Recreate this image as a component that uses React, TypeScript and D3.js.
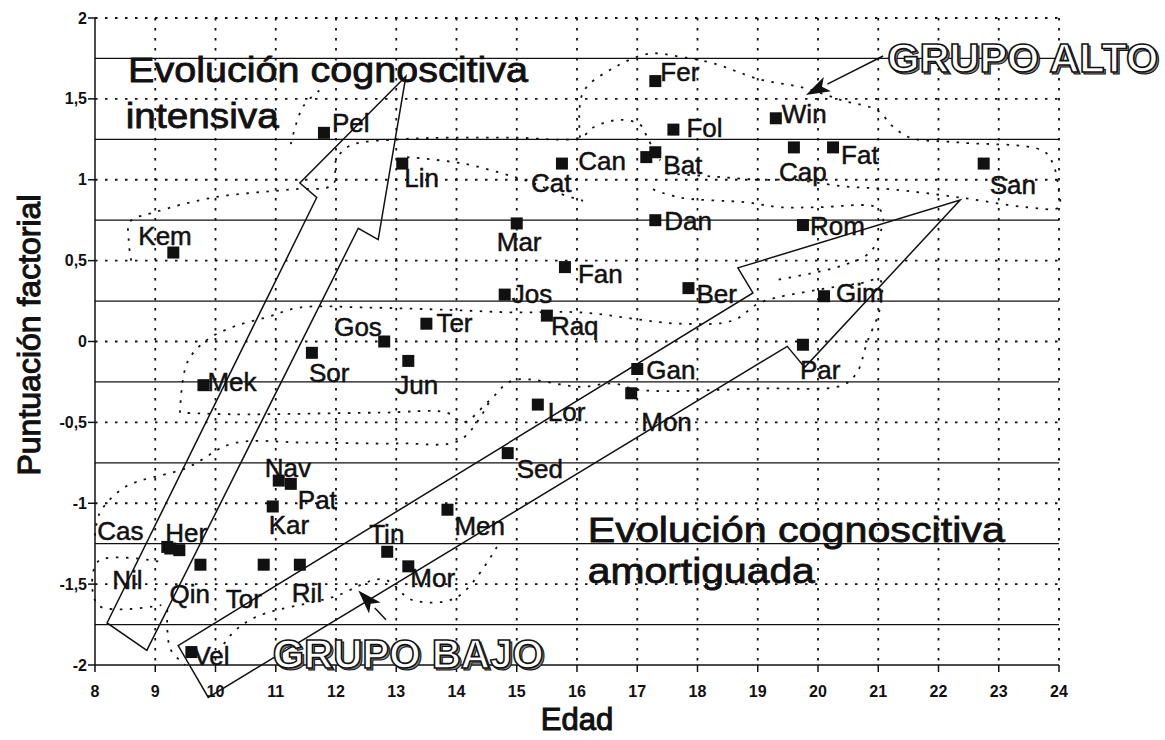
import React, { useEffect, useRef } from "react";
import * as d3 from "d3";

// Sujetos: nombre, edad, puntuación factorial
const nombres = ["Pel", "Kem", "Lin", "Cat", "Can", "Bat", "Fer", "Fol", "Dan", "Mar", "Fan", "Jos", "Ber", "Raq", "Ter", "Gos", "Jun", "Sor", "Mek", "Gan", "Mon", "Lor", "Sed", "Men", "Nav", "Pat", "Kar", "Cas", "Her", "Nil", "Qin", "Tor", "Ril", "Tin", "Mor", "Vel", "Win", "Cap", "Fat", "San", "Rom", "Gim", "Par"];
const edad = [11.8, 9.3, 13.1, 15.75, 17.15, 17.3, 17.3, 17.6, 17.3, 15.0, 15.8, 14.8, 17.85, 15.5, 13.5, 12.8, 13.2, 11.6, 9.8, 17.0, 16.9, 15.35, 14.85, 13.85, 11.05, 11.25, 10.95, 9.2, 9.4, 9.25, 9.75, 10.8, 11.4, 12.85, 13.2, 9.6, 19.3, 19.6, 20.25, 22.75, 19.75, 20.1, 19.75];
const puntuacion = [1.29, 0.55, 1.1, 1.1, 1.14, 1.17, 1.61, 1.31, 0.75, 0.73, 0.46, 0.29, 0.33, 0.16, 0.11, 0.0, -0.12, -0.07, -0.27, -0.17, -0.32, -0.39, -0.69, -1.04, -0.86, -0.88, -1.02, -1.27, -1.29, -1.28, -1.38, -1.38, -1.38, -1.3, -1.39, -1.92, 1.38, 1.2, 1.2, 1.1, 0.72, 0.28, -0.02];

// Ticks
const xTicks = [8, 9, 10, 11, 12, 13, 14, 15, 16, 17, 18, 19, 20, 21, 22, 23, 24];
const yTicks = [-2, -1.5, -1, -0.5, 0, 0.5, 1, 1.5, 2];
const solidLevels = [1.75, 1.25, 0.75, 0.25, -0.25, -0.75, -1.25, -1.75];

// label placement (pixel offsets from the marker)
const labelOffset: Record<string, [number, number]> = {
  Pel: [8, -1], Kem: [-35, -8], Lin: [2, 23], Cat: [-31, 28], Can: [-68, 13], Bat: [8, 22],
  Fer: [5, 0], Fol: [13, 7], Dan: [9, 10], Mar: [-20, 28], Fan: [13, 16], Jos: [7, 8],
  Ber: [8, 15], Raq: [4, 19], Ter: [10, 8], Gos: [-50, -6], Jun: [-12, 33], Sor: [-3, 29],
  Mek: [4, 6], Gan: [9, 10], Mon: [10, 38], Lor: [10, 16], Sed: [9, 25], Men: [7, 25],
  Nav: [-14, -4], Pat: [7, 25], Kar: [-4, 28], Cas: [-70, -7], Her: [-14, -8], Nil: [-58, 40],
  Qin: [-31, 38], Tor: [-38, 43], Ril: [-8, 37], Tin: [-18, -9], Mor: [2, 21], Vel: [2, 13],
  Win: [6, 5], Cap: [-15, 34], Fat: [8, 17], San: [6, 30], Rom: [7, 10], Gim: [12, 6], Par: [-3, 34],
};

// big outline arrows (edad, puntuación)
const flechaIntensiva: [number, number][] = [[13.16, 1.64], [11.4, 0.98], [11.68, 0.89], [8.2, -1.74], [8.86, -1.91], [12.37, 0.7], [12.7, 0.63]];
const flechaAmortiguada: [number, number][] = [[9.38, -1.88], [18.92, 0.3], [18.67, 0.455], [22.36, 0.875], [19.78, -0.16], [19.49, -0.03], [9.88, -2.2]];

// hand drawn dotted group boundaries
const contornos: [number, number][][] = [
  [[8.6, 0.5], [8.56, 0.62], [8.58, 0.74], [9.0, 0.8], [9.96, 0.89], [11.24, 0.94], [11.95, 0.97], [12.0, 1.12], [12.23, 1.21], [13.06, 1.25], [13.89, 1.26], [14.97, 1.26], [16.05, 1.26], [16.3, 1.33], [16.71, 1.37], [17.05, 1.34], [17.18, 1.25], [17.38, 1.12]],
  [[11.25, 1.22], [11.45, 1.45], [11.75, 1.56]],
  [[16.05, 1.26], [16.1, 1.54], [16.6, 1.69], [17.21, 1.78], [17.71, 1.76], [18.26, 1.72], [19.04, 1.62], [19.75, 1.57], [20.41, 1.49], [20.98, 1.43], [21.24, 1.33], [21.53, 1.26], [22.36, 1.23], [23.73, 1.18], [23.9, 1.1], [24, 0.92], [24, 0.83], [23.47, 0.83], [22.36, 0.89], [21.24, 0.94], [20.41, 0.96], [19.59, 1.0], [19.04, 1.0], [18.26, 1.02], [17.43, 1.04]],
  [[13.18, 1.14], [14.11, 1.1], [14.94, 1.02], [15.27, 0.98], [15.67, 0.92], [16.1, 0.87]],
  [[17.26, 0.94], [17.71, 0.89], [18.82, 0.86], [19.37, 0.83], [20.0, 0.83], [20.98, 0.83], [21.08, 0.77], [21.03, 0.67], [20.86, 0.55], [20.41, 0.47], [19.87, 0.42], [19.3, 0.38]],
  [[9.41, -0.44], [9.53, -0.13], [9.86, 0.01], [10.29, 0.09], [10.85, 0.15], [11.4, 0.21], [12.51, 0.21], [13.89, 0.195], [14.94, 0.18], [16.05, 0.18], [17.71, 0.11], [18.59, 0.13], [19.04, 0.24], [20.0, 0.32], [20.7, 0.36], [21.03, 0.38], [21.03, 0.21], [20.81, -0.01], [20.65, -0.19], [20.41, -0.27], [19.04, -0.29], [17.05, -0.3], [16.6, -0.26], [16.05, -0.28], [14.94, -0.24], [14.56, -0.36], [14.11, -0.5], [13.84, -0.44], [12.73, -0.44], [10.29, -0.45], [9.41, -0.44]],
  [[8.0, -1.2], [8.08, -1.06], [8.5, -0.9], [9.53, -0.78], [10.29, -0.63], [11.5, -0.625], [13.06, -0.63], [14.06, -0.61], [14.56, -0.36]],
  [[14.67, -1.27], [14.01, -1.58], [13.28, -1.6], [12.78, -1.47], [11.95, -1.58], [10.69, -1.7], [10.29, -1.8], [10.0, -1.95]],
  [[9.05, -1.36], [8.05, -1.36], [8.05, -1.63], [9.1, -1.63]],
  [[9.2, -1.66], [9.25, -1.9], [9.5, -2.0]],
];

export default function App() {
  const ref = useRef<SVGSVGElement>(null);

  useEffect(() => {
    const svg = d3.select(ref.current);
    svg.selectAll("*").remove();

    const x = d3.scaleLinear().domain([8, 24]).range([95, 1059]);
    const y = d3.scaleLinear().domain([-2, 2]).range([665, 18]);
    const font = "'Liberation Sans', Arial, Helvetica, sans-serif";
    const ink = "#111";
    const dots = "2.5 7.5";

    svg.append("rect").attr("width", 1165).attr("height", 740).attr("fill", "#fff");

    // dotted grid
    svg.append("g").selectAll("line").data(xTicks.slice(1)).join("line")
      .attr("x1", (d) => x(d)).attr("x2", (d) => x(d))
      .attr("y1", y(2)).attr("y2", y(-2))
      .attr("stroke", ink).attr("stroke-width", 1.8).attr("stroke-dasharray", dots);
    svg.append("g").selectAll("line").data(yTicks.slice(1)).join("line")
      .attr("x1", x(8)).attr("x2", x(24))
      .attr("y1", (d) => y(d)).attr("y2", (d) => y(d))
      .attr("stroke", ink).attr("stroke-width", 1.8).attr("stroke-dasharray", dots);

    // solid horizontal lines
    svg.append("g").selectAll("line").data(solidLevels).join("line")
      .attr("x1", x(8)).attr("x2", x(24))
      .attr("y1", (d) => y(d)).attr("y2", (d) => y(d))
      .attr("stroke", ink).attr("stroke-width", 1.3);

    // axes
    svg.append("line").attr("x1", x(8)).attr("x2", x(8)).attr("y1", y(2)).attr("y2", y(-2))
      .attr("stroke", ink).attr("stroke-width", 1.5);
    svg.append("line").attr("x1", x(8)).attr("x2", x(24)).attr("y1", y(-2)).attr("y2", y(-2))
      .attr("stroke", ink).attr("stroke-width", 1.5);

    svg.append("g").selectAll("line").data(yTicks).join("line")
      .attr("x1", x(8) - 7).attr("x2", x(8)).attr("y1", (d) => y(d)).attr("y2", (d) => y(d))
      .attr("stroke", ink).attr("stroke-width", 1.5);
    svg.append("g").selectAll("line").data(xTicks).join("line")
      .attr("x1", (d) => x(d)).attr("x2", (d) => x(d)).attr("y1", y(-2)).attr("y2", y(-2) + 7)
      .attr("stroke", ink).attr("stroke-width", 1.5);

    const fmt = (v: number) => String(v).replace(".", ",");
    svg.append("g").selectAll("text").data(yTicks).join("text")
      .attr("x", x(8) - 8).attr("y", (d) => y(d) + 5.5)
      .attr("text-anchor", "end").attr("font-family", font).attr("font-weight", "bold")
      .attr("font-size", 16).attr("fill", ink).text(fmt);
    svg.append("g").selectAll("text").data(xTicks).join("text")
      .attr("x", (d) => x(d)).attr("y", y(-2) + 32)
      .attr("text-anchor", "middle").attr("font-family", font).attr("font-weight", "bold")
      .attr("font-size", 16).attr("fill", ink).text(fmt);

    // axis titles
    svg.append("text").attr("x", 577).attr("y", 730).attr("text-anchor", "middle")
      .attr("font-family", font).attr("font-size", 31).attr("fill", ink)
      .attr("stroke", ink).attr("stroke-width", 1.1).text("Edad");
    svg.append("text").attr("transform", `translate(40,335) rotate(-90)`).attr("text-anchor", "middle")
      .attr("font-family", font).attr("font-size", 32).attr("fill", ink)
      .attr("stroke", ink).attr("stroke-width", 1.1).text("Puntuación factorial");

    // dotted contours
    const curve = d3.line<[number, number]>().x((d) => x(d[0])).y((d) => y(d[1])).curve(d3.curveCatmullRom.alpha(0.5));
    svg.append("g").selectAll("path").data(contornos).join("path")
      .attr("d", (d) => curve(d) as string).attr("fill", "none")
      .attr("stroke", ink).attr("stroke-width", 1.8).attr("stroke-dasharray", dots);

    // outline arrows
    const poly = d3.line<[number, number]>().x((d) => x(d[0])).y((d) => y(d[1])).curve(d3.curveLinearClosed);
    svg.append("g").selectAll("path").data([flechaIntensiva, flechaAmortiguada]).join("path")
      .attr("d", (d) => poly(d) as string).attr("fill", "none")
      .attr("stroke", ink).attr("stroke-width", 1.5).attr("stroke-linejoin", "miter");

    // points
    const pts = nombres.map((n, i) => ({ n, px: x(edad[i]), py: y(puntuacion[i]) }));
    svg.append("g").selectAll("rect").data(pts).join("rect")
      .attr("x", (d) => d.px - 6).attr("y", (d) => d.py - 6)
      .attr("width", 12).attr("height", 12).attr("fill", ink);
    svg.append("g").selectAll("text").data(pts).join("text")
      .attr("x", (d) => d.px + labelOffset[d.n][0]).attr("y", (d) => d.py + labelOffset[d.n][1])
      .attr("font-family", font).attr("font-size", 26).attr("fill", ink)
      .attr("stroke", ink).attr("stroke-width", 0.5).text((d) => d.n);

    // big annotations
    const big = (t: string, ex: number, ey: number, len: number) =>
      svg.append("text").attr("x", x(ex)).attr("y", y(ey))
        .attr("font-family", font).attr("font-size", 35).attr("fill", ink)
        .attr("stroke", ink).attr("stroke-width", 0.8)
        .attr("textLength", len).attr("lengthAdjust", "spacingAndGlyphs").text(t);
    big("Evolución cognoscitiva", 8.55, 1.604, 400);
    big("intensiva", 8.51, 1.32, 153);
    big("Evolución cognoscitiva", 16.18, -1.24, 417);
    big("amortiguada", 16.18, -1.49, 227);

    const grupo = (t: string, ex: number, ey: number) => {
      const base = (sel: d3.Selection<SVGTextElement, unknown, null, undefined>) =>
        sel.attr("font-family", font).attr("font-weight", "bold").attr("font-size", 40)
          .attr("textLength", 271).attr("lengthAdjust", "spacingAndGlyphs").text(t);
      base(svg.append("text").attr("x", x(ex) + 2).attr("y", y(ey) + 2)
        .attr("fill", "#888").attr("stroke", ink).attr("stroke-width", 1));
      base(svg.append("text").attr("x", x(ex)).attr("y", y(ey))
        .attr("fill", "#fff").attr("stroke", ink).attr("stroke-width", 1.6));
    };
    grupo("GRUPO ALTO", 21.15, 1.666);
    grupo("GRUPO BAJO", 10.95, -2.02);

    const flecha = (tail: [number, number], tip: [number, number]) => {
      const x0 = x(tail[0]), y0 = y(tail[1]), x1 = x(tip[0]), y1 = y(tip[1]);
      const L = Math.hypot(x1 - x0, y1 - y0);
      const ux = (x1 - x0) / L, uy = (y1 - y0) / L;
      const bx = x1 - ux * 24, by = y1 - uy * 24;
      svg.append("line").attr("x1", x0).attr("y1", y0).attr("x2", bx).attr("y2", by)
        .attr("stroke", ink).attr("stroke-width", 1.5);
      svg.append("path")
        .attr("d", `M${x1},${y1}L${bx - uy * 8},${by + ux * 8}L${bx + ux * 6},${by + uy * 6}L${bx + uy * 8},${by - ux * 8}Z`)
        .attr("fill", ink);
    };
    flecha([21.08, 1.765], [19.8, 1.524]);
    flecha([12.83, -1.72], [12.37, -1.54]);
  }, []);

  return (
    <svg ref={ref} width={1165} height={740} style={{ position: "absolute", left: 0, top: 0, background: "#fff" }} />
  );
}
